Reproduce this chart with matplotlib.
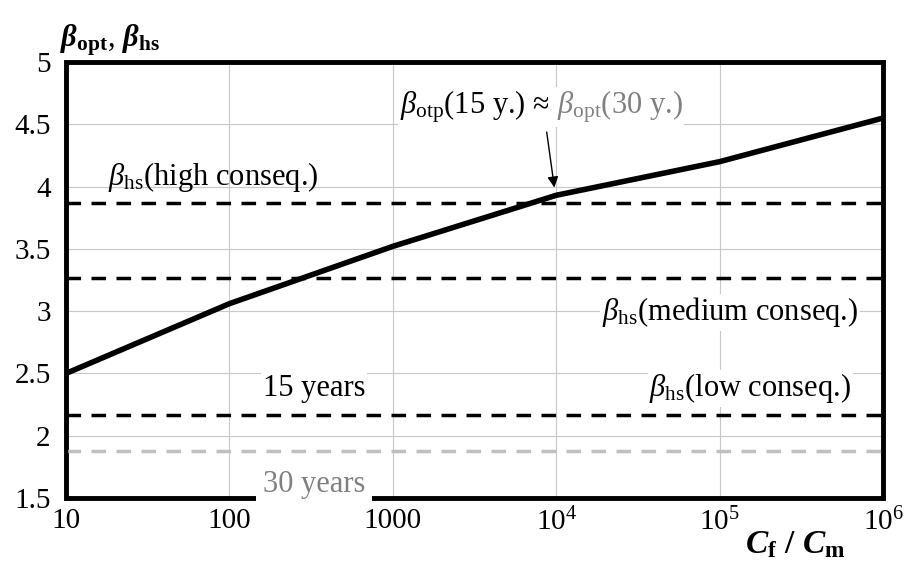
import numpy as np
import matplotlib.pyplot as plt
from matplotlib.patches import Rectangle

plt.rcParams['font.family'] = ['Liberation Serif', 'DejaVu Serif']
plt.rcParams['mathtext.fontset'] = 'custom'
plt.rcParams['mathtext.rm'] = 'Liberation Serif'
plt.rcParams['mathtext.it'] = 'Liberation Serif:italic'
plt.rcParams['mathtext.bf'] = 'Liberation Serif:bold:italic'
plt.rcParams['mathtext.sf'] = 'Liberation Serif:bold'

# optimum reliability index vs cost ratio
cost_ratio = [10, 100, 1000, 1e4, 1e5, 1e6]
beta_opt = [2.50, 3.06, 3.52, 3.93, 4.20, 4.55]

# target levels (horizontal)
beta_high = 3.87
beta_medium = 3.27
beta_low_15 = 2.17
beta_low_30 = 1.88

xticks = [10, 100, 1000, 1e4, 1e5, 1e6]
xticklabels = ['10', '100', '1000', '$10^4$', '$10^5$', '$10^6$']
yticks = [1.5, 2, 2.5, 3, 3.5, 4, 4.5, 5]
yticklabels = ['1.5', '2', '2.5', '3', '3.5', '4', '4.5', '5']

fig = plt.figure(figsize=(9.08, 5.66), dpi=100)
ax = fig.add_axes([66/908, 68/566, (883-66)/908, (498-62)/566])

ax.set_xscale('log')
ax.set_xlim(10, 1e6)
ax.set_ylim(1.5, 5)
ax.grid(True, which='major', color='#c8c8c8', lw=0.8)
ax.set_axisbelow(True)

dash = dict(lw=2.5, dashes=(4.2, 3.0))
ax.axhline(beta_high, color='black', **dash)
ax.axhline(beta_medium, color='black', **dash)
ax.axhline(beta_low_15, color='black', **dash)
ax.axhline(beta_low_30, color='#bfbfbf', **dash)
ax.plot(cost_ratio, beta_opt, color='black', lw=4, solid_capstyle='butt')

ax.set_xticks(xticks)
ax.set_xticklabels(xticklabels)
ax.set_yticks(yticks)
ax.set_yticklabels(yticklabels)
ax.minorticks_off()
ax.tick_params(length=0, labelsize=21)
ax.tick_params(axis='x', pad=7)
ax.tick_params(axis='y', pad=11)

for s in ax.spines.values():
    s.set_linewidth(2.5)
ax.add_patch(Rectangle((0, 0), 1, 1, transform=ax.transAxes, fill=False,
                       lw=3.5, ec='black', clip_on=False))

box = dict(facecolor='white', edgecolor='none', pad=1)
fs = 22
ax.text(18, 4.08, r'$\beta_{\mathrm{hs}}$(high conseq.)', fontsize=fs, va='center', ha='left')
ax.text(1.9e4, 2.99, r'$\beta_{\mathrm{hs}}$(medium conseq.)', fontsize=fs, va='center',
        ha='left', bbox=box)
ax.text(3.7e4, 2.38, r'$\beta_{\mathrm{hs}}$(low conseq.)', fontsize=fs, va='center',
        ha='left', bbox=box)
ax.text(330, 2.38, '15 years', fontsize=fs, va='center', ha='center', bbox=box)
ax.text(330, 1.61, '30 years', fontsize=fs, va='center', ha='center', color='#808080',
        bbox=dict(facecolor='white', edgecolor='none', pad=5))

ax.annotate('', xy=(9.8e3, 3.97), xytext=(8.7e3, 4.46),
            arrowprops=dict(arrowstyle='-|>', color='black', lw=1, mutation_scale=16))
t1 = ax.text(1.1e3, 4.64, r'$\beta_{\mathrm{otp}}$(15 y.) ≈', fontsize=fs,
             va='center', ha='left', bbox=box)
ax.annotate('\u00a0' + r'$\beta_{\mathrm{opt}}$(30 y.)', xy=(1, 0.5), xycoords=t1,
            fontsize=fs, va='center', ha='left', color='#808080', bbox=box)

fig.text(60/908, 1 - 40/566, r'$\mathbf{\beta}_{\mathsf{opt}}$, $\mathbf{\beta}_{\mathsf{hs}}$',
         fontsize=22, va='center', ha='left')
fig.text(745/908, 1 - 545/566, r'$\mathbf{C}_{\mathsf{f}}$ / $\mathbf{C}_{\mathsf{m}}$',
         fontsize=24, fontweight='bold', va='center', ha='left')

fig.savefig('out.png', dpi=100, facecolor='white')
